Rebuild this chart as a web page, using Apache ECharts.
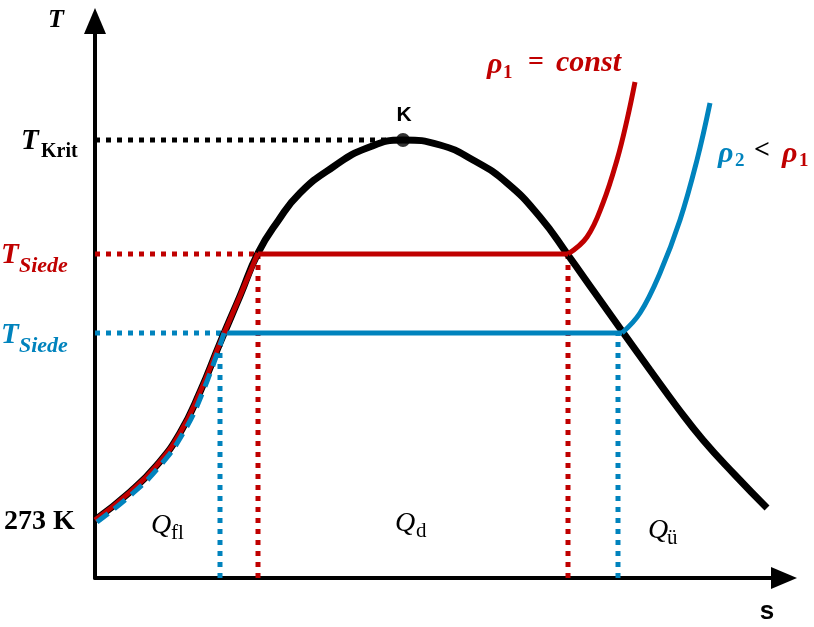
<!DOCTYPE html>
<html><head><meta charset="utf-8">
<script src="https://cdn.jsdelivr.net/npm/echarts@6/dist/echarts.min.js"></script>
<style>html,body{margin:0;padding:0;background:#fff}#c{width:814px;height:627px}</style>
</head><body><div id="c"></div>
<script>
// Saturation dome (s, T) in chart units
const domeS = [0, 35, 62, 85, 105, 125, 145, 163, 183, 205, 238, 272, 308, 345, 378, 412, 445, 473, 500, 527, 555, 582, 608, 640, 672];
const domeT = [58, 86, 113, 145, 186, 235, 282, 325, 357, 385, 411, 430, 438, 433, 418, 395, 361, 323, 285, 247, 208, 171, 138, 103, 70];
// Liquid branches up to each boiling point
const liqRedS = [0, 35, 62, 85, 105, 125, 145, 163];
const liqRedT = [58, 86, 113, 145, 186, 235, 282, 325];
const liqBlueS = [2, 37, 64, 87, 107, 129];
const liqBlueT = [56, 84, 111, 143, 184, 245];
// Isobars
const tSiede1 = 324, tSiede2 = 245, tKrit = 438, sKrit = 308;
const s1Left = 163, s1Right = 473, s2Left = 127, s2Right = 523;
const sup1S = [473, 492, 508, 522, 532, 540];
const sup1T = [324, 341, 375, 418, 458, 496];
const sup2S = [527, 545, 565, 585, 602, 615];
const sup2T = [245, 265, 305, 358, 418, 475];

const RED = '#C00000', BLUE = '#0083BD';
const zip = (a, b) => a.map((v, i) => [v, b[i]]);
const dots = [5, 6];
function line(data, color, width, type, z, smooth) {
  return { type: 'line', data, symbol: 'none', smooth: smooth || false, z, silent: true,
    lineStyle: { color, width, type, cap: 'butt' } };
}
const chart = echarts.init(document.getElementById('c'));
const serif = '"Liberation Serif", "DejaVu Serif", serif';
const sans = '"Liberation Sans", Arial, sans-serif';
function txt(x, y, text, font, color, align) {
  return { type: 'text', x, y, z: 100,
    style: { text, font, fill: color || '#000', textAlign: align || 'left', textVerticalAlign: 'middle' } };
}
chart.setOption({
  animation: false,
  grid: { left: 95, right: 30, top: 21, bottom: 49 },
  xAxis: { type: 'value', min: 0, max: 689, splitLine: { show: false }, axisTick: { show: false }, axisLabel: { show: false },
    axisLine: { show: true, symbol: ['none', 'triangle'], symbolSize: [22, 26], lineStyle: { color: '#000', width: 4 } } },
  yAxis: { type: 'value', min: 0, max: 557, splitLine: { show: false }, axisTick: { show: false }, axisLabel: { show: false },
    axisLine: { show: true, symbol: ['none', 'triangle'], symbolSize: [22, 26], lineStyle: { color: '#000', width: 4 } } },
  series: [
    line([[0, tKrit], [sKrit, tKrit]], '#000', 5, dots, 3),
    line([[0, tSiede1], [s1Left, tSiede1]], RED, 5, dots, 3),
    line([[s1Left, 0], [s1Left, tSiede1]], RED, 5, dots, 3),
    line([[s1Right, 0], [s1Right, tSiede1]], RED, 5, dots, 3),
    line([[0, tSiede2], [s2Left, tSiede2]], BLUE, 5, dots, 3),
    line([[s2Left - 2, 0], [s2Left - 2, tSiede2]], BLUE, 5, dots, 3),
    line([[s2Right, 0], [s2Right, tSiede2]], BLUE, 5, dots, 3),
    line(zip(domeS, domeT), '#000', 7, 'solid', 5, 0.5),
    line([[s1Left, tSiede1], [s1Right, tSiede1]], RED, 5, 'solid', 6),
    line([[s2Left, tSiede2], [s2Right + 4, tSiede2]], BLUE, 5, 'solid', 6),
    line(zip(sup1S, sup1T), RED, 5, 'solid', 6, 0.4),
    line(zip(sup2S, sup2T), BLUE, 5, 'solid', 6, 0.4),
    line(zip(liqRedS, liqRedT), RED, 5, 'solid', 7, 0.5),
    line(zip(liqBlueS, liqBlueT), BLUE, 5, [14, 8], 8, 0.5),
    { type: 'scatter', data: [[sKrit, tKrit]], symbolSize: 14, itemStyle: { color: '#000' }, z: 9, silent: true }
  ],
  graphic: [
    txt(48, 20, 'T', 'italic bold 26px ' + serif),
    txt(21, 142, 'T', 'italic bold 29px ' + serif),
    txt(41, 152, 'Krit', 'bold 20px ' + serif),
    txt(1, 256, 'T', 'italic bold 29px ' + serif, RED),
    txt(19, 266, 'Siede', 'italic bold 22px ' + serif, RED),
    txt(1, 336, 'T', 'italic bold 29px ' + serif, BLUE),
    txt(19, 346, 'Siede', 'italic bold 22px ' + serif, BLUE),
    txt(4, 522, '273 K', 'bold 28px ' + serif),
    txt(151, 526, 'Q', 'italic 28px ' + serif),
    txt(171, 533, 'fl', '21px ' + serif),
    txt(395, 524, 'Q', 'italic 28px ' + serif),
    txt(416, 531, 'd', '21px ' + serif),
    txt(648, 531, 'Q', 'italic 28px ' + serif),
    txt(667, 538, 'ü', '21px ' + serif),
    txt(404, 115, 'K', 'bold 21px ' + sans, '#000', 'center'),
    txt(767, 612, 's', 'bold 26px ' + sans, '#000', 'center'),
    txt(487, 65, 'ρ', 'italic bold 30px ' + serif, RED),
    txt(503, 73, '1', 'bold 19px ' + serif, RED),
    txt(528, 63, '=', 'bold 28px ' + serif, RED),
    txt(556, 63, 'const', 'italic bold 30px ' + serif, RED),
    txt(718, 154, 'ρ', 'italic bold 30px ' + serif, BLUE),
    txt(735, 161, '2', 'bold 19px ' + serif, BLUE),
    txt(754, 151, '<', 'bold 28px ' + serif, '#000'),
    txt(782, 154, 'ρ', 'italic bold 30px ' + serif, RED),
    txt(799, 161, '1', 'bold 19px ' + serif, RED)
  ]
});
</script></body></html>
